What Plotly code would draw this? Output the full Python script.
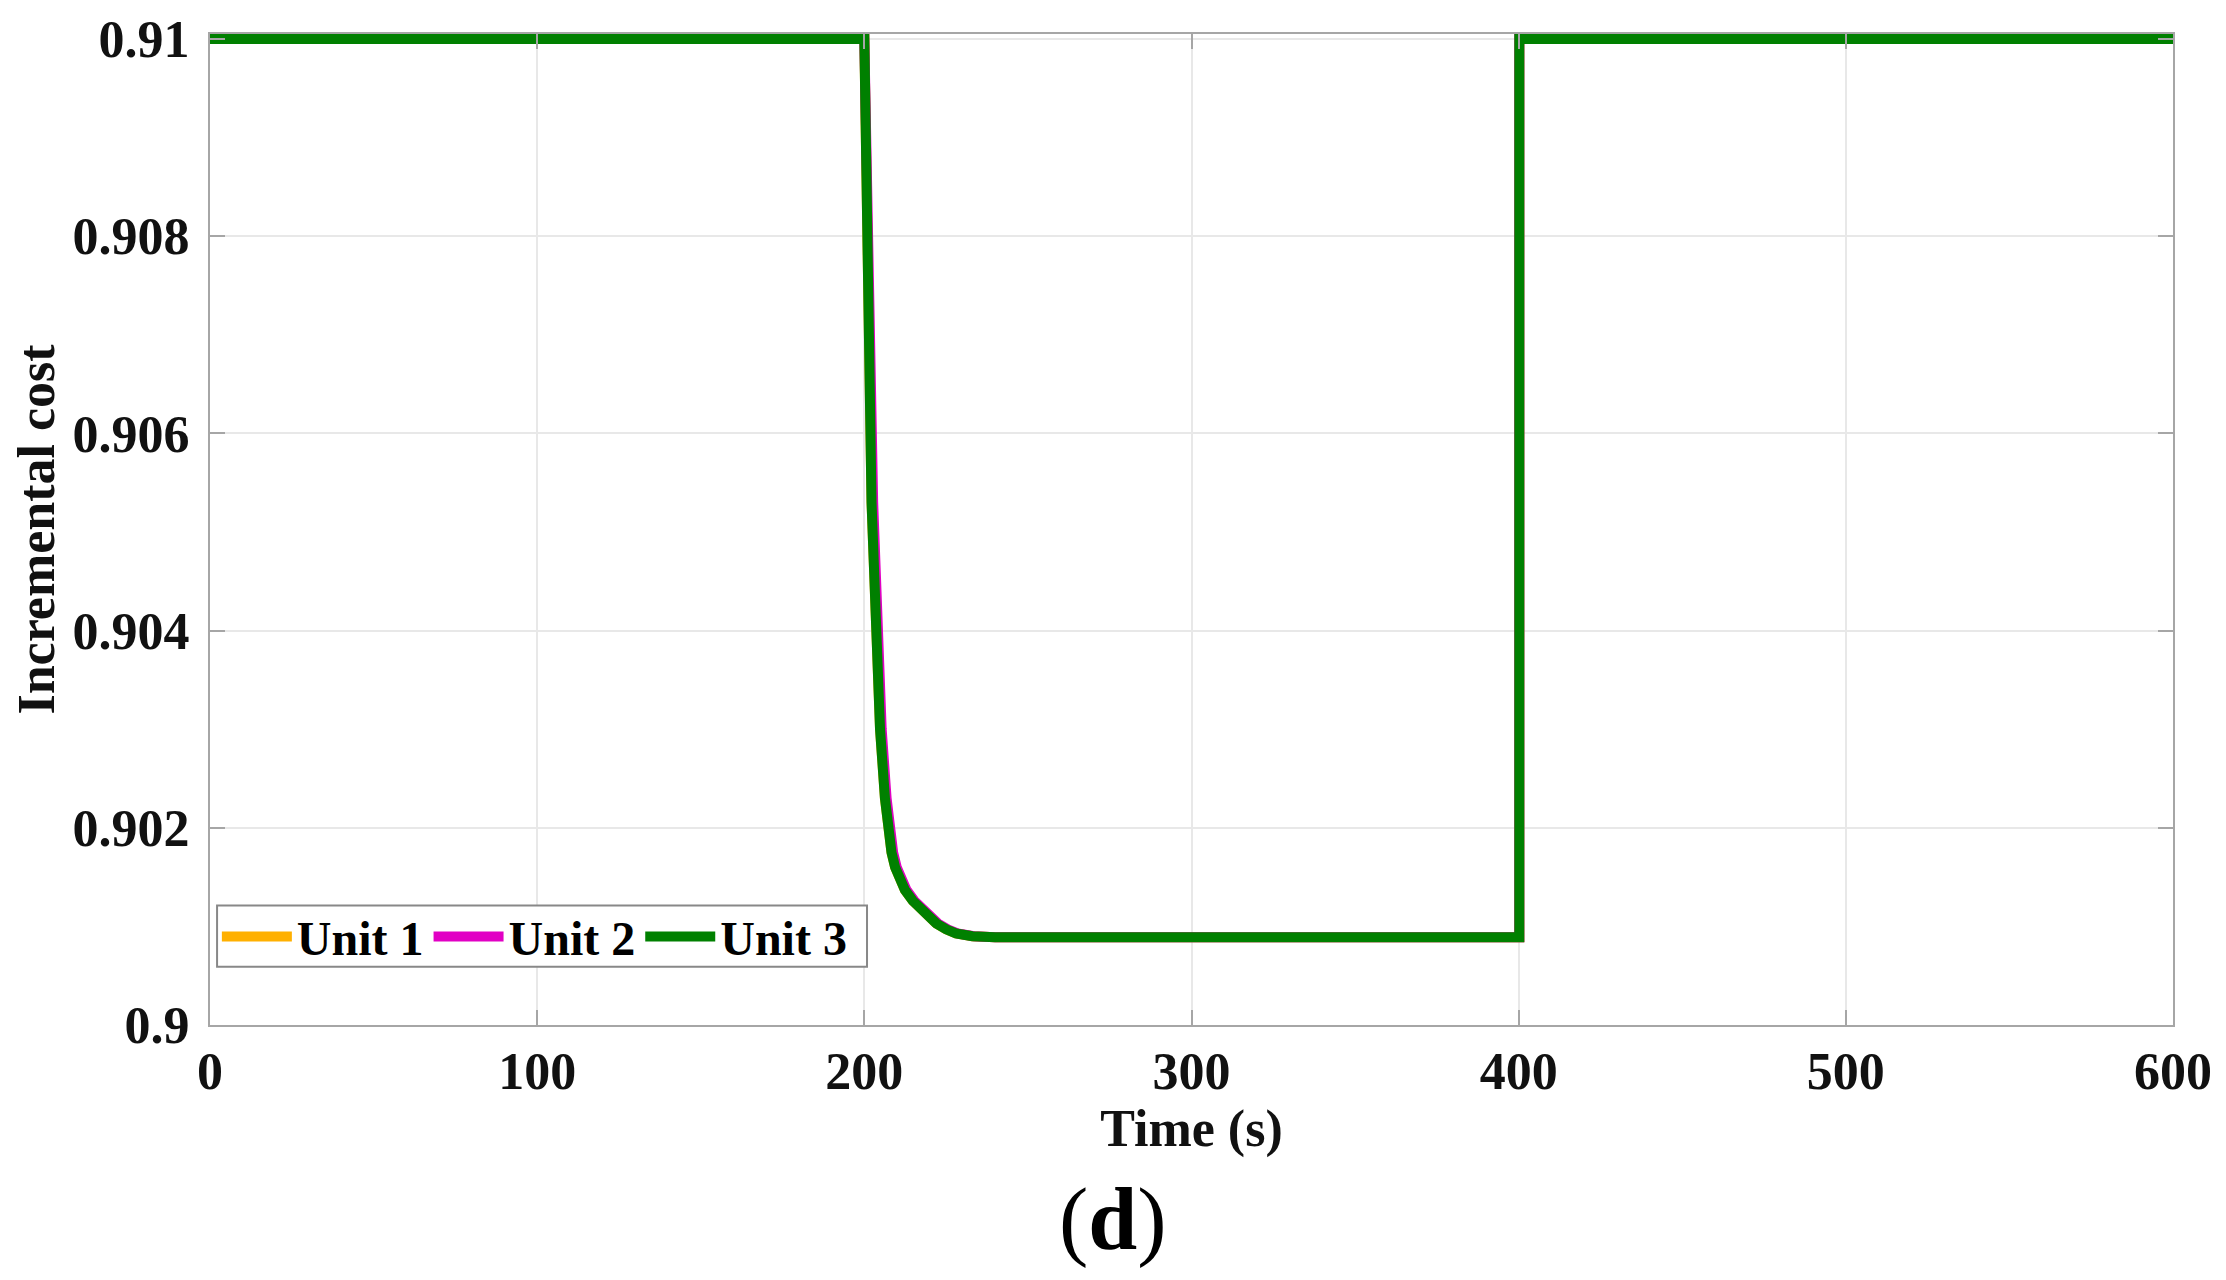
import plotly.graph_objects as go

# values
t_unit1 = [0, 200, 202.2, 203.3, 204.8, 206.3, 207.3, 208.3, 209.4, 210.8, 212.4, 214.8, 217.6, 220, 222, 225, 228, 233, 240, 400.2, 400.2, 600]
y_unit1 = [0.91, 0.91, 0.9053, 0.9040, 0.9030, 0.9023, 0.90195, 0.90175, 0.9016, 0.90147, 0.90137, 0.90126, 0.90117, 0.90109, 0.90103, 0.90097, 0.90093, 0.9009, 0.90089, 0.90089, 0.91, 0.91]

t_unit2 = [0, 200, 202.7, 203.8, 205.3, 206.8, 207.8, 208.8, 209.9, 211.3, 212.9, 215.3, 218.1, 220.5, 222.5, 225.5, 228.5, 233.5, 240, 400.2, 400.2, 600]
y_unit2 = [0.91, 0.91, 0.9053, 0.9040, 0.9030, 0.9023, 0.90195, 0.90175, 0.9016, 0.90147, 0.90137, 0.90126, 0.90117, 0.90109, 0.90103, 0.90097, 0.90093, 0.9009, 0.90089, 0.90089, 0.91, 0.91]

t_unit3 = [0, 200, 202.2, 203.3, 204.8, 206.3, 207.3, 208.3, 209.4, 210.8, 212.4, 214.8, 217.6, 220, 222, 225, 228, 233, 240, 400.2, 400.2, 600]
y_unit3 = [0.91, 0.91, 0.9053, 0.9040, 0.9030, 0.9023, 0.90195, 0.90175, 0.9016, 0.90147, 0.90137, 0.90126, 0.90117, 0.90109, 0.90103, 0.90097, 0.90093, 0.9009, 0.90089, 0.90089, 0.91, 0.91]

x_ticks = [0, 100, 200, 300, 400, 500, 600]
y_ticks = [0.9, 0.902, 0.904, 0.906, 0.908, 0.91]
y_tick_text = ["0.9", "0.902", "0.904", "0.906", "0.908", "0.91"]

font = "Liberation Serif"
frame = "#a6a6a6"

fig = go.Figure()
fig.add_trace(go.Scatter(x=t_unit1, y=y_unit1, mode="lines", name="<b>Unit 1</b>",
                         line=dict(color="#FFB000", width=10)))
fig.add_trace(go.Scatter(x=t_unit2, y=y_unit2, mode="lines", name="<b>Unit 2</b>",
                         line=dict(color="#E100C4", width=10)))
fig.add_trace(go.Scatter(x=t_unit3, y=y_unit3, mode="lines", name="<b>Unit 3</b>",
                         line=dict(color="#008000", width=10)))

# top border at 0.91 (range is padded a little so the thick line is not clipped)
fig.add_shape(type="line", xref="x", yref="y", x0=0, x1=600, y0=0.91, y1=0.91,
              line=dict(color=frame, width=2), layer="below")
# compact legend frame (plotly's own legend box is taller than the original)
fig.add_shape(type="rect", xref="paper", yref="paper", x0=0.0036, x1=0.3347, y0=0.0588, y1=0.1206,
              line=dict(color="#888888", width=2), fillcolor="white", layer="above")

fig.add_annotation(text="(<b>d</b>)", xref="paper", yref="paper", x=0.46, y=-0.196,
                   xanchor="center", yanchor="middle", showarrow=False,
                   font=dict(family=font, size=88, color="black"))

fig.update_layout(
    width=2226, height=1280,
    margin=dict(l=202, r=61, t=26, b=263, autoexpand=False),
    paper_bgcolor="white", plot_bgcolor="white",
    font=dict(family=font, size=52, color="#111111"),
    showlegend=True,
    legend=dict(orientation="h", x=0.0035, y=0.089, xanchor="left", yanchor="middle",
                bgcolor="rgba(0,0,0,0)", borderwidth=0,
                font=dict(family=font, size=48, color="black"),
                itemwidth=70, tracegroupgap=0),
)
fig.update_xaxes(
    range=[0, 600], tickvals=x_ticks, ticktext=["<b>%d</b>" % v for v in x_ticks],
    ticks="inside", ticklen=15, tickwidth=1.5, automargin=False,
    tickcolor=frame, showline=True, linecolor=frame, linewidth=2, mirror="ticks",
    showgrid=True, gridcolor="#e8e8e8", gridwidth=1.5, zeroline=False,
    tickfont=dict(family=font, size=52, color="#111111"), ticklabelstandoff=0,
    title=dict(text="<b>Time (s)</b>", font=dict(family=font, size=52, color="#111111"), standoff=0),
)
fig.update_yaxes(
    range=[0.9, 0.91005], tickvals=y_ticks, ticktext=["<b>%s</b>" % s for s in y_tick_text],
    ticks="inside", ticklen=15, tickwidth=1.5, automargin=False,
    tickcolor=frame, showline=True, linecolor=frame, linewidth=2, mirror="ticks",
    showgrid=True, gridcolor="#e8e8e8", gridwidth=1.5, zeroline=False,
    tickfont=dict(family=font, size=52, color="#111111"), ticklabelstandoff=8,
    title=dict(text="<b>Incremental cost</b>", font=dict(family=font, size=52, color="#111111"), standoff=6),
)

fig.write_html("out.html")
